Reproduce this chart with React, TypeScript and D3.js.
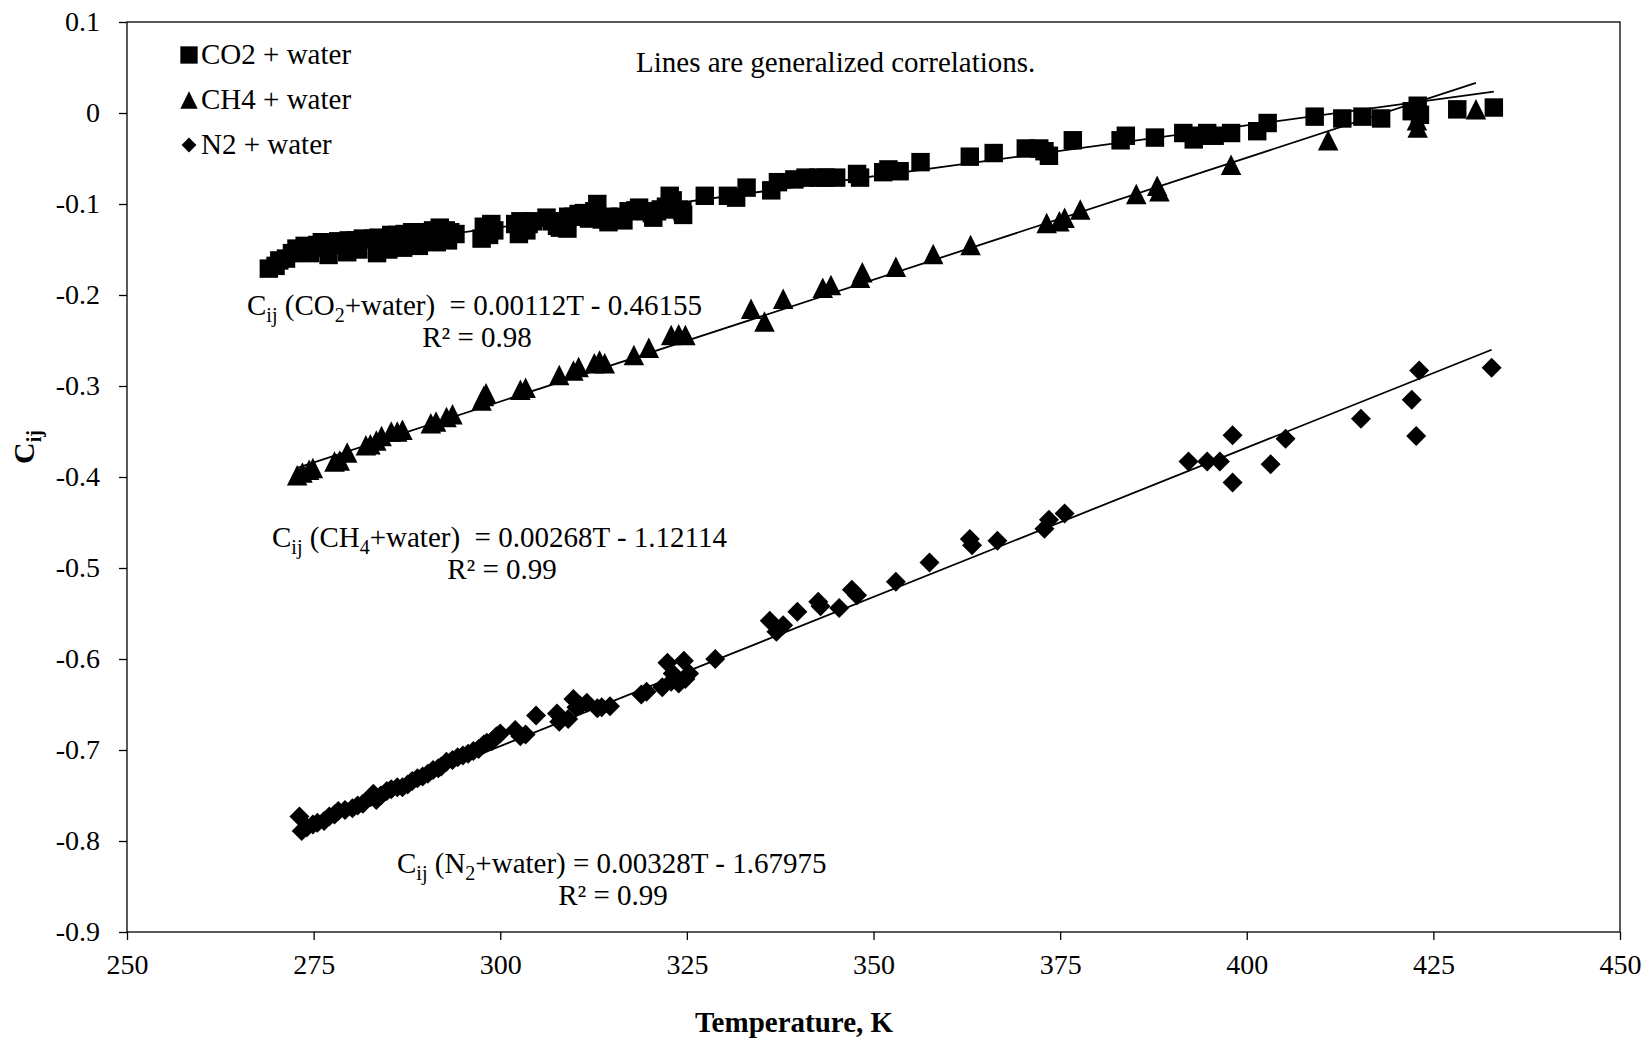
import { useEffect, useRef } from "react";
import * as d3 from "d3";

// axis ticks
const xTicks = [250, 275, 300, 325, 350, 375, 400, 425, 450];
const yTicks = [0.1, 0, -0.1, -0.2, -0.3, -0.4, -0.5, -0.6, -0.7, -0.8, -0.9];

// [T (K), Cij]
const co2Points: [number, number][] = [
  [269.0, -0.171], [269.9, -0.168], [270.4, -0.162], [271.3, -0.16], [272.1, -0.154],
  [272.7, -0.149], [273.3, -0.152], [273.8, -0.146], [274.5, -0.154], [274.9, -0.148],
  [275.5, -0.145], [276.1, -0.142], [276.9, -0.145], [277.0, -0.156], [277.8, -0.145],
  [278.3, -0.141], [279.0, -0.142], [279.5, -0.153], [279.7, -0.14], [280.6, -0.14],
  [281.0, -0.15], [281.6, -0.138], [282.3, -0.139], [283.0, -0.138], [283.5, -0.154],
  [283.7, -0.137], [284.8, -0.138], [285.0, -0.15], [285.4, -0.134], [285.6, -0.145],
  [286.2, -0.134], [287.0, -0.148], [287.2, -0.133], [288.2, -0.131], [289.0, -0.131],
  [289.1, -0.146], [289.3, -0.137], [290.5, -0.133], [291.0, -0.129], [291.5, -0.142],
  [291.9, -0.126], [292.7, -0.129], [293.0, -0.14], [293.3, -0.131], [294.0, -0.133],
  [297.5, -0.138], [297.8, -0.125], [298.2, -0.131], [298.5, -0.134], [298.8, -0.122],
  [299.2, -0.129], [302.0, -0.122], [302.5, -0.133], [302.7, -0.119], [303.4, -0.125],
  [303.5, -0.129], [303.8, -0.122], [304.4, -0.119], [306.2, -0.115], [306.9, -0.119],
  [307.6, -0.124], [308.0, -0.126], [308.4, -0.122], [309.0, -0.127], [309.1, -0.114],
  [309.8, -0.114], [310.5, -0.111], [311.2, -0.11], [311.9, -0.116], [312.6, -0.108],
  [313.0, -0.1], [313.6, -0.117], [314.4, -0.114], [314.5, -0.12], [315.4, -0.115],
  [316.1, -0.114], [316.5, -0.118], [317.2, -0.108], [318.1, -0.107], [318.6, -0.104],
  [319.6, -0.108], [320.3, -0.11], [320.5, -0.115], [321.0, -0.108], [321.5, -0.106],
  [322.2, -0.103], [322.7, -0.091], [323.1, -0.096], [323.9, -0.106], [324.4, -0.108],
  [324.5, -0.112], [327.4, -0.091], [330.5, -0.091], [331.6, -0.093], [333.0, -0.082],
  [336.3, -0.085], [337.2, -0.076], [339.4, -0.073], [340.9, -0.071], [342.6, -0.071],
  [343.6, -0.071], [345.0, -0.071], [347.8, -0.067], [348.2, -0.071], [351.3, -0.065],
  [352.0, -0.062], [353.5, -0.064], [356.3, -0.054], [362.9, -0.048], [366.1, -0.044],
  [370.4, -0.039], [372.2, -0.039], [372.9, -0.042], [373.5, -0.047], [376.7, -0.03],
  [383.1, -0.03], [383.8, -0.025], [387.7, -0.027], [391.5, -0.022], [392.9, -0.029],
  [393.3, -0.025], [394.7, -0.022], [395.7, -0.025], [397.9, -0.022], [401.4, -0.02],
  [402.8, -0.011], [409.1, -0.004], [412.8, -0.006], [415.5, -0.004], [418.0, -0.006],
  [422.1, 0.002], [422.9, 0.008], [423.2, -0.002], [428.2, 0.004], [433.1, 0.006],
];

const ch4Points: [number, number][] = [
  [272.8, -0.398], [273.5, -0.395], [274.4, -0.392], [274.9, -0.39], [277.8, -0.383],
  [278.5, -0.382], [279.5, -0.373], [282.0, -0.365], [282.6, -0.364], [283.4, -0.36],
  [284.1, -0.355], [285.4, -0.35], [286.2, -0.35], [286.9, -0.348], [290.7, -0.341],
  [291.4, -0.339], [292.8, -0.334], [293.6, -0.331], [297.5, -0.316], [297.8, -0.311],
  [298.1, -0.308], [302.7, -0.304], [303.4, -0.302], [307.9, -0.288], [309.8, -0.283],
  [310.5, -0.279], [312.6, -0.275], [313.3, -0.272], [314.0, -0.275], [317.9, -0.266],
  [319.9, -0.258], [322.9, -0.244], [323.9, -0.243], [324.8, -0.244], [333.6, -0.215],
  [335.4, -0.229], [337.9, -0.204], [343.2, -0.192], [344.3, -0.189], [348.2, -0.181],
  [348.5, -0.175], [353.0, -0.169], [358.0, -0.155], [363.0, -0.145], [373.2, -0.121],
  [374.9, -0.119], [375.6, -0.115], [377.7, -0.106], [385.2, -0.089], [388.0, -0.08],
  [388.3, -0.086], [397.9, -0.057], [410.9, -0.03], [422.8, -0.008], [422.9, -0.016],
  [430.7, 0.004],
];

const n2Points: [number, number][] = [
  [273.1, -0.773], [273.4, -0.789], [274.1, -0.785], [274.9, -0.782], [275.5, -0.78],
  [276.4, -0.778], [277.1, -0.773], [277.8, -0.771], [278.3, -0.767], [279.2, -0.766],
  [280.2, -0.764], [280.9, -0.761], [281.6, -0.759], [282.6, -0.752], [283.0, -0.748],
  [283.4, -0.755], [284.0, -0.75], [284.8, -0.745], [285.4, -0.743], [286.2, -0.741],
  [286.9, -0.741], [287.6, -0.738], [288.2, -0.734], [288.9, -0.731], [289.6, -0.729],
  [290.3, -0.726], [291.0, -0.722], [291.7, -0.72], [292.1, -0.718], [292.8, -0.713],
  [293.6, -0.711], [294.3, -0.708], [295.0, -0.706], [295.7, -0.704], [296.4, -0.701],
  [297.1, -0.699], [297.8, -0.694], [298.2, -0.692], [298.9, -0.69], [299.5, -0.685],
  [300.0, -0.682], [302.0, -0.678], [302.7, -0.685], [303.4, -0.683], [304.8, -0.662],
  [307.6, -0.66], [307.9, -0.669], [309.1, -0.666], [309.8, -0.644], [310.2, -0.653],
  [310.7, -0.651], [311.6, -0.648], [313.0, -0.654], [313.6, -0.653], [314.7, -0.652],
  [318.9, -0.639], [319.6, -0.636], [321.7, -0.631], [322.4, -0.604], [322.9, -0.625],
  [323.1, -0.616], [323.9, -0.627], [324.6, -0.602], [324.8, -0.622], [325.3, -0.616],
  [328.8, -0.6], [336.1, -0.558], [337.0, -0.57], [337.9, -0.563], [339.8, -0.548],
  [342.6, -0.537], [342.9, -0.542], [345.4, -0.544], [347.1, -0.524], [347.8, -0.53],
  [353.0, -0.515], [357.5, -0.494], [362.9, -0.468], [363.2, -0.475], [366.6, -0.47],
  [372.9, -0.457], [373.5, -0.447], [375.6, -0.44], [392.2, -0.383], [394.7, -0.383],
  [396.4, -0.383], [398.1, -0.354], [398.1, -0.406], [403.2, -0.386], [405.2, -0.358],
  [415.3, -0.336], [422.1, -0.315], [422.7, -0.355], [423.1, -0.283], [432.8, -0.28],
];

// generalized correlations, Cij = slope * T + intercept
const co2Fit = { slope: 0.00112, intercept: -0.46155 };
const ch4Fit = { slope: 0.00268, intercept: -1.12114 };
const n2Fit = { slope: 0.00328, intercept: -1.67975 };

const legendLabels = ["CO2 + water", "CH4 + water", "N2 + water"];

const FONT = "'Liberation Serif', 'Times New Roman', serif";

const triangleType = {
  draw(ctx: any, size: number) {
    const s = Math.sqrt(size) / 2;
    ctx.moveTo(0, -s);
    ctx.lineTo(s, s);
    ctx.lineTo(-s, s);
    ctx.closePath();
  },
};

const diamondType = {
  draw(ctx: any, size: number) {
    const r = Math.sqrt(size) / 2;
    ctx.moveTo(0, -r);
    ctx.lineTo(r, 0);
    ctx.lineTo(0, r);
    ctx.lineTo(-r, 0);
    ctx.closePath();
  },
};

function CijChart() {
  const ref = useRef<SVGSVGElement | null>(null);

  useEffect(() => {
    if (!ref.current) {
      return;
    }
    const width = 1649;
    const height = 1045;
    const margin = { top: 22, right: 29, bottom: 113, left: 127 };

    const svg = d3.select(ref.current);
    svg.selectAll("*").remove();
    svg.attr("viewBox", `0 0 ${width} ${height}`);

    const x = d3.scaleLinear().domain([250, 450]).range([margin.left, width - margin.right]);
    const y = d3.scaleLinear().domain([-0.9, 0.1]).range([height - margin.bottom, margin.top]);

    svg.append("rect").attr("width", width).attr("height", height).attr("fill", "white");

    // markers
    const square = d3.symbol().type(d3.symbolSquare).size(340);
    const triangle = d3.symbol().type(triangleType as any).size(420);
    const diamond = d3.symbol().type(diamondType as any).size(400);

    const series = [
      { points: co2Points, shape: square, fit: co2Fit },
      { points: ch4Points, shape: triangle, fit: ch4Fit },
      { points: n2Points, shape: diamond, fit: n2Fit },
    ];

    series.forEach((s) => {
      svg
        .append("g")
        .selectAll("path")
        .data(s.points)
        .join("path")
        .attr("transform", (d) => `translate(${x(d[0])},${y(d[1])})`)
        .attr("d", s.shape() as string)
        .attr("fill", "black");
    });

    // correlation lines over each data range
    series.forEach((s) => {
      const ext = d3.extent(s.points, (d) => d[0]) as [number, number];
      const fitLine = d3
        .line<number>()
        .x((t) => x(t))
        .y((t) => y(s.fit.slope * t + s.fit.intercept));
      svg
        .append("path")
        .attr("d", fitLine(ext))
        .attr("fill", "none")
        .attr("stroke", "black")
        .attr("stroke-width", 1.8);
    });

    // plot frame
    svg
      .append("rect")
      .attr("x", x(250))
      .attr("y", y(0.1))
      .attr("width", x(450) - x(250))
      .attr("height", y(-0.9) - y(0.1))
      .attr("fill", "none")
      .attr("stroke", "black")
      .attr("stroke-width", 1.3);

    // axes
    const xAxis = svg
      .append("g")
      .attr("transform", `translate(0,${y(-0.9)})`)
      .call(d3.axisBottom(x).tickValues(xTicks).tickSize(8).tickPadding(14).tickFormat((v) => `${v}`));
    const yAxis = svg
      .append("g")
      .attr("transform", `translate(${x(250)},0)`)
      .call(
        d3
          .axisLeft(y)
          .tickValues(yTicks)
          .tickSize(8)
          .tickPadding(19)
          .tickFormat((v) => `${+(+v).toFixed(1)}`)
      );
    [xAxis, yAxis].forEach((ax) => {
      ax.select(".domain").remove();
      ax.selectAll("line").attr("stroke", "black").attr("stroke-width", 1.3);
      ax.selectAll("text")
        .attr("fill", "black")
        .style("font-family", FONT)
        .style("font-size", "28px");
    });

    // axis titles
    svg
      .append("text")
      .attr("x", 794)
      .attr("y", 1032)
      .attr("text-anchor", "middle")
      .style("font-family", FONT)
      .style("font-size", "29px")
      .style("font-weight", "bold")
      .text("Temperature, K");

    const yTitle = svg
      .append("text")
      .attr("transform", "translate(34,447) rotate(-90)")
      .attr("text-anchor", "middle")
      .style("font-family", FONT)
      .style("font-size", "30px")
      .style("font-weight", "bold");
    yTitle.append("tspan").text("C");
    yTitle.append("tspan").attr("dy", 7).style("font-size", "20px").text("ij");

    // legend
    const legendShapes = [
      d3.symbol().type(d3.symbolSquare).size(300),
      d3.symbol().type(triangleType as any).size(300),
      d3.symbol().type(diamondType as any).size(220),
    ];
    legendLabels.forEach((label, i) => {
      const ly = 55 + i * 45;
      svg
        .append("path")
        .attr("transform", `translate(189,${ly})`)
        .attr("d", legendShapes[i]() as string)
        .attr("fill", "black");
      svg
        .append("text")
        .attr("x", 201)
        .attr("y", ly + 9)
        .style("font-family", FONT)
        .style("font-size", "29px")
        .text(label);
    });

    svg
      .append("text")
      .attr("x", 636)
      .attr("y", 72)
      .style("font-family", FONT)
      .style("font-size", "29px")
      .text("Lines are generalized correlations.");

    // correlation equations
    const addEquation = (
      left: number,
      by: number,
      gas: string,
      sub: string,
      rest: string,
      r2: string,
      r2x: number
    ) => {
      const t = svg
        .append("text")
        .attr("x", left)
        .attr("y", by)
        .style("font-family", FONT)
        .style("font-size", "29px")
        .style("white-space", "pre");
      t.append("tspan").text("C");
      t.append("tspan").attr("dy", 7).style("font-size", "20px").text("ij");
      t.append("tspan").attr("dy", -7).text(` (${gas}`);
      t.append("tspan").attr("dy", 7).style("font-size", "20px").text(sub);
      t.append("tspan").attr("dy", -7).text(rest);
      svg
        .append("text")
        .attr("x", r2x)
        .attr("y", by + 32)
        .attr("text-anchor", "middle")
        .style("font-family", FONT)
        .style("font-size", "29px")
        .text(r2);
    };
    addEquation(247, 315, "CO", "2", "+water)  = 0.00112T - 0.46155", "R² = 0.98", 477);
    addEquation(272, 547, "CH", "4", "+water)  = 0.00268T - 1.12114", "R² = 0.99", 502);
    addEquation(397, 873, "N", "2", "+water) = 0.00328T - 1.67975", "R² = 0.99", 613);
  }, []);

  return (
    <svg
      ref={ref}
      width={1649}
      height={1045}
      style={{ position: "absolute", left: 0, top: 0, display: "block" }}
      role="img"
      aria-label="Cij versus temperature"
    />
  );
}

export default function App() {
  return <CijChart />;
}
